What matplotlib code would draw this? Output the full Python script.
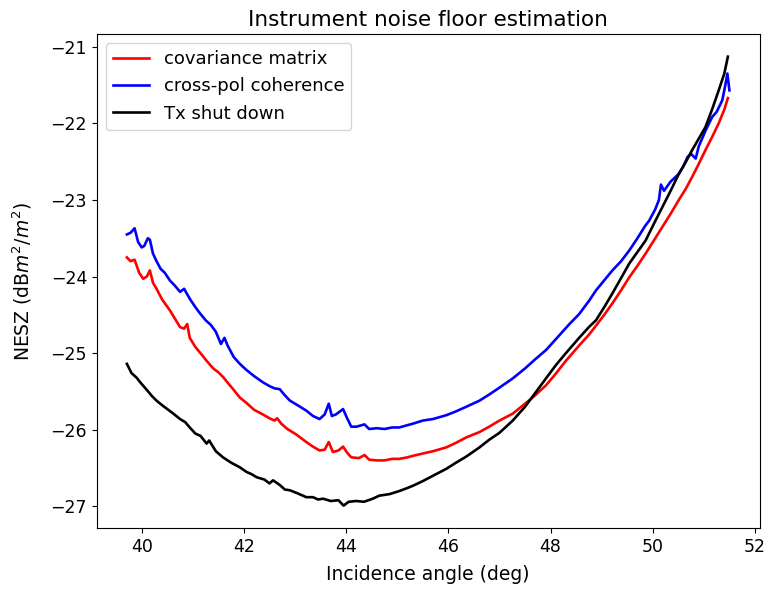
import matplotlib
matplotlib.use("Agg")
import matplotlib.pyplot as plt

# cross-pol coherence (blue)
x_cpc = [39.71, 39.78, 39.86, 39.93, 40.00, 40.05, 40.12, 40.16, 40.22, 40.29,
         40.37, 40.45, 40.55, 40.65, 40.75, 40.83, 40.88, 40.95, 41.05, 41.14,
         41.25, 41.35, 41.45, 41.55, 41.62, 41.68, 41.80, 41.92, 42.05, 42.20,
         42.37, 42.50, 42.60, 42.70, 42.80, 42.90, 43.05, 43.22, 43.35, 43.48,
         43.58, 43.66, 43.72, 43.80, 43.94, 44.02, 44.10, 44.20, 44.36, 44.45,
         44.60, 44.75, 44.90, 45.04, 45.20, 45.31, 45.50, 45.70, 45.96, 46.15,
         46.35, 46.61, 46.80, 47.00, 47.26, 47.50, 47.70, 47.91, 48.10, 48.37,
         48.56, 48.76, 48.89, 49.05, 49.21, 49.38, 49.54, 49.70, 49.85, 49.93,
         50.05, 50.12, 50.16, 50.22, 50.35, 50.51, 50.60, 50.68, 50.75, 50.84,
         50.90, 51.03, 51.16, 51.25, 51.36, 51.42, 51.46, 51.50]
y_cpc = [-23.45, -23.43, -23.37, -23.55, -23.62, -23.60, -23.50, -23.52, -23.70, -23.80,
         -23.90, -23.95, -24.05, -24.12, -24.20, -24.16, -24.22, -24.30, -24.40, -24.48,
         -24.57, -24.63, -24.72, -24.88, -24.80, -24.90, -25.05, -25.14, -25.22, -25.30,
         -25.38, -25.43, -25.46, -25.47, -25.55, -25.62, -25.68, -25.75, -25.82, -25.86,
         -25.80, -25.66, -25.82, -25.80, -25.73, -25.85, -25.96, -25.96, -25.93, -25.99,
         -25.98, -25.99, -25.97, -25.97, -25.94, -25.92, -25.88, -25.86, -25.81, -25.76,
         -25.70, -25.62, -25.54, -25.45, -25.33, -25.20, -25.08, -24.96, -24.82, -24.62,
         -24.49, -24.31, -24.18, -24.05, -23.92, -23.80, -23.66, -23.50, -23.34, -23.27,
         -23.12, -23.00, -22.80, -22.88, -22.76, -22.66, -22.56, -22.44, -22.40, -22.46,
         -22.30, -22.10, -21.92, -21.85, -21.70, -21.50, -21.35, -21.57]

# covariance matrix (red)
x_cov = [39.71, 39.78, 39.86, 39.95, 40.03, 40.10, 40.16, 40.22, 40.29, 40.40,
         40.55, 40.65, 40.75, 40.83, 40.89, 40.94, 41.05, 41.15, 41.27, 41.40,
         41.50, 41.59, 41.70, 41.80, 41.92, 42.05, 42.20, 42.37, 42.50, 42.60,
         42.65, 42.73, 42.85, 43.02, 43.22, 43.35, 43.48, 43.58, 43.66, 43.74,
         43.85, 43.94, 44.02, 44.10, 44.25, 44.36, 44.45, 44.59, 44.75, 44.90,
         45.04, 45.20, 45.31, 45.50, 45.70, 45.96, 46.15, 46.35, 46.61, 46.80,
         47.00, 47.26, 47.50, 47.70, 47.91, 48.10, 48.30, 48.56, 48.75, 48.89,
         49.05, 49.21, 49.38, 49.54, 49.70, 49.86, 50.03, 50.19, 50.35, 50.51,
         50.65, 50.77, 50.90, 51.03, 51.16, 51.29, 51.40, 51.47]
y_cov = [-23.75, -23.80, -23.78, -23.95, -24.03, -24.00, -23.92, -24.08, -24.16, -24.30,
         -24.44, -24.55, -24.66, -24.68, -24.62, -24.80, -24.92, -25.00, -25.10, -25.20,
         -25.25, -25.31, -25.40, -25.48, -25.58, -25.65, -25.74, -25.80, -25.85, -25.88,
         -25.85, -25.92, -25.99, -26.06, -26.16, -26.22, -26.27, -26.26, -26.16, -26.29,
         -26.27, -26.22, -26.30, -26.36, -26.37, -26.33, -26.39, -26.40, -26.40, -26.38,
         -26.38, -26.36, -26.34, -26.31, -26.28, -26.23, -26.17, -26.10, -26.03, -25.96,
         -25.88, -25.79, -25.66, -25.55, -25.42, -25.27, -25.10, -24.90, -24.76, -24.64,
         -24.50, -24.35, -24.18, -24.01, -23.86, -23.70, -23.52, -23.35, -23.18, -23.00,
         -22.85, -22.70, -22.53, -22.35, -22.18, -22.00, -21.82, -21.67]

# Tx shut down (black)
x_tx = [39.71, 39.80, 39.90, 39.97, 40.10, 40.20, 40.29, 40.40, 40.50, 40.62,
        40.75, 40.85, 40.94, 41.05, 41.15, 41.27, 41.32, 41.45, 41.59, 41.75,
        41.92, 42.05, 42.15, 42.25, 42.40, 42.50, 42.57, 42.70, 42.80, 42.90,
        43.05, 43.22, 43.35, 43.45, 43.55, 43.70, 43.85, 43.95, 44.05, 44.20,
        44.35, 44.52, 44.65, 44.85, 45.04, 45.20, 45.31, 45.50, 45.70, 45.96,
        46.15, 46.35, 46.61, 46.80, 47.00, 47.26, 47.50, 47.70, 47.91, 48.10,
        48.30, 48.56, 48.75, 48.89, 49.05, 49.21, 49.38, 49.54, 49.70, 49.86,
        50.03, 50.19, 50.35, 50.51, 50.65, 50.77, 50.90, 51.03, 51.16, 51.29,
        51.40, 51.47]
y_tx = [-25.14, -25.26, -25.32, -25.38, -25.48, -25.56, -25.62, -25.68, -25.73, -25.79,
        -25.86, -25.90, -25.97, -26.05, -26.08, -26.18, -26.14, -26.28, -26.36, -26.43,
        -26.49, -26.55, -26.58, -26.62, -26.65, -26.70, -26.66, -26.72, -26.78, -26.79,
        -26.83, -26.88, -26.88, -26.91, -26.90, -26.93, -26.92, -26.99, -26.94, -26.93,
        -26.94, -26.90, -26.86, -26.84, -26.80, -26.76, -26.73, -26.67, -26.60, -26.51,
        -26.43, -26.35, -26.23, -26.13, -26.04, -25.88, -25.70, -25.52, -25.33, -25.16,
        -25.00, -24.80, -24.66, -24.57, -24.40, -24.22, -24.02, -23.83, -23.68, -23.53,
        -23.30, -23.09, -22.88, -22.66, -22.50, -22.35, -22.20, -22.05, -21.82, -21.57,
        -21.35, -21.13]

fig = plt.figure(figsize=(7.68, 5.90), dpi=100)
ax = fig.add_axes([0.126, 0.105, 0.863, 0.837])

ax.plot(x_cov, y_cov, color='red', lw=1.9, label='covariance matrix')
ax.plot(x_cpc, y_cpc, color='blue', lw=1.9, label='cross-pol coherence')
ax.plot(x_tx, y_tx, color='black', lw=1.9, label='Tx shut down')

ax.set_title('Instrument noise floor estimation', fontsize=15.5)
ax.set_xlabel('Incidence angle (deg)', fontsize=13.5, labelpad=7)
ax.set_ylabel(r'NESZ (dB$m^2/m^2$)', fontsize=13.5, labelpad=12)
ax.tick_params(labelsize=12.5)
ax.legend(loc='upper left', fontsize=13)

fig.savefig('out.png', dpi=100)
